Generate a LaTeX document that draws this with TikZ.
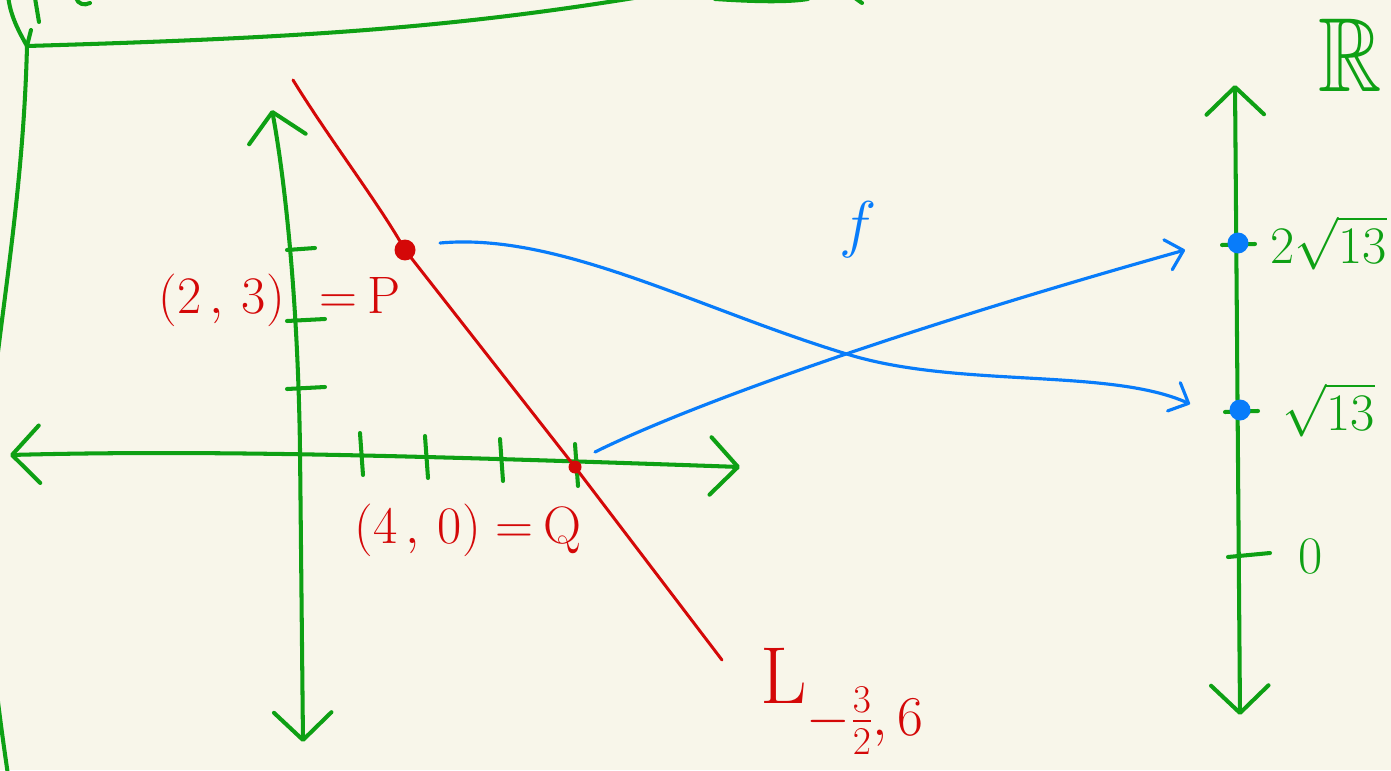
\RequirePackage{fix-cm}
\documentclass[tikz,border=0pt]{standalone}
\usepackage{amsmath,amssymb}
\usepackage{tikz}
\usetikzlibrary{arrows.meta}
\definecolor{paper}{RGB}{248,246,234}
\definecolor{pengreen}{RGB}{14,160,20}
\definecolor{penred}{RGB}{212,8,8}
\definecolor{penblue}{RGB}{8,124,250}
\tikzset{axis/.style={pengreen,line width=2.3pt,line cap=round,line join=round},
 axistip/.tip={Straight Barb[length=.55cm,width=1.15cm,round]},
 maparrow/.style={penblue,line width=1.8pt,line cap=round,-{Straight Barb[length=.32cm,width=.62cm,round]}},
 tickmark/.style={pengreen,line width=2.3pt,line cap=round},
 ptdot/.style={circle,fill,inner sep=0pt},
 every node/.style={font=\fontsize{30}{36}\selectfont,inner sep=0pt}}

\begin{document}
\begin{tikzpicture}[x=0.02cm,y=-0.02cm]
\useasboundingbox (0,0) rectangle (1391,770);
\fill[paper] (0,0) rectangle (1391,770);
\clip (0,0) rectangle (1391,770);
% frame of the page
\draw[axis] (8,-5) .. controls (10,15) and (18,30) .. (27,46);
\draw[axis] (27,46) -- (31,30);
\draw[axis] (35,-2) -- (39,22);
\draw[axis] (76,-2) .. controls (78,4) and (84,6) .. (90,3);
\draw[axis] (27,46) .. controls (300,38) and (450,28) .. (640,-3);
\draw[axis] (715,-1) .. controls (760,2) and (790,2) .. (808,-1);
\draw[axis] (855,-2) -- (862,3);
\draw[axis] (27,46) .. controls (22,250) and (-20,400) .. (-15,550) .. controls (-10,650) and (0,720) .. (8,775);

% the plane
\coordinate (xl) at (10,455);
\coordinate (xr) at (740,467);
\coordinate (yt) at (272,110);
\coordinate (yb) at (303,742);
\draw[axis,axistip-axistip] (xl) .. controls (200,450) and (400,455) .. (xr);
\draw[axis,axistip-axistip] (yb) -- (300,450) .. controls (298,300) and (285,180) .. (yt);
\foreach \x/\y in {360/455,425/458,500/461,575/466}
  \draw[tickmark] ({\x},{\y-22}) -- ({\x+3},{\y+20});
\foreach \y/\w in {250/28,321/38,389/38}
  \draw[tickmark] (287,\y) -- ({287+\w},{\y-2});

% the line L
\coordinate (Ltop) at (293,80);
\coordinate (Lbot) at (722,660);
\node[ptdot,penred,minimum size=.42cm] (P) at (405,250) {};
\node[ptdot,penred,minimum size=.26cm] (Q) at (575,467) {};
\draw[penred,line width=1.7pt,line cap=round] (Ltop) .. controls (330,140) and (380,205) .. (P.center) -- (Q.center) -- (Lbot);
\node[penred,anchor=west] (Plbl) at (158,300) {$(2\,,\,3)$\hspace{.7cm}$=$\hspace{.2cm}$\mathrm{P}$};
\node[penred,anchor=west] (Qlbl) at (354,530) {$(4\,,\,0)$\hspace{.3cm}$=$\hspace{.2cm}$\mathrm{Q}$};
\node[penred,anchor=base west,font=\fontsize{46}{50}\selectfont] (Llbl) at (760,703)
  {$\mathrm{L}_{\lower.4cm\hbox{\fontsize{32}{36}\selectfont$-\frac{3}{2},6$}}$};

% the real line
\coordinate (rt) at (1235,85);
\coordinate (rb) at (1240,715);
\draw[axis,axistip-axistip] (rb) -- (rt);
\draw[tickmark] (1222,245) -- (1255,244);
\draw[tickmark] (1225,412) -- (1258,411);
\draw[tickmark] (1228,557) -- (1270,553);
\node[ptdot,penblue,minimum size=.42cm] (S2) at (1238,243) {};
\node[ptdot,penblue,minimum size=.42cm] (S1) at (1240,410) {};
\node[pengreen,anchor=west] (l2) at (1270,243) {$2\sqrt{13}$};
\node[pengreen,anchor=west] (l1) at (1282,410) {$\sqrt{13}$};
\node[pengreen,anchor=west] (l0) at (1298,557) {$0$};
\node[pengreen,font=\fontsize{50}{54}\selectfont] (reals) at (1350,55) {\scalebox{1}[1.2]{$\mathbb{R}$}};

% the map f
\node[penblue,font=\fontsize{36}{40}\selectfont] (fmap) at (858,230) {$f$};
\coordinate (fromP) at (440,243);
\coordinate (toS1) at (1190,404);
\coordinate (fromQ) at (595,452);
\coordinate (toS2) at (1185,250);
\draw[maparrow] (fromP) .. controls (560,232) and (700,310) .. (850,355) .. controls (960,388) and (1110,368) .. (toS1);
\draw[maparrow] (fromQ) .. controls (690,405) and (900,330) .. (toS2);
\end{tikzpicture}
\end{document}
